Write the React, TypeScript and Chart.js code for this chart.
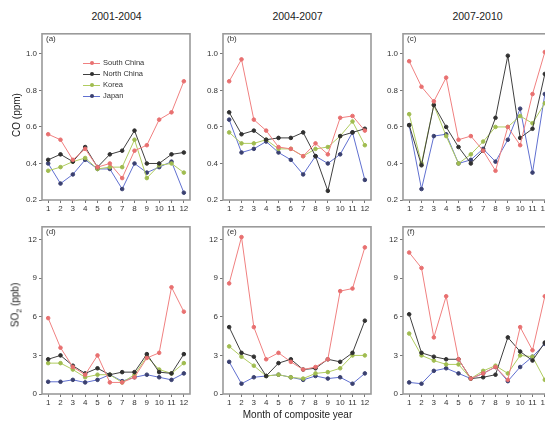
import React, { useEffect, useRef } from "react";
import { Chart, registerables } from "chart.js";

Chart.register(...registerables);

const months = ["1", "2", "3", "4", "5", "6", "7", "8", "9", "10", "11", "12"];
const seriesNames = ["South China", "North China", "Korea", "Japan"];
const periodTitles = ["2001-2004", "2004-2007", "2007-2010"];
const coTicks = [0.2, 0.4, 0.6, 0.8, 1.0];
const so2Ticks = [0, 3, 6, 9, 12];

// CO (ppm)
const coSouthChina0104 = [0.56, 0.53, 0.42, 0.48, 0.38, 0.4, 0.32, 0.47, 0.5, 0.64, 0.68, 0.85];
const coNorthChina0104 = [0.42, 0.45, 0.41, 0.49, 0.38, 0.45, 0.47, 0.58, 0.4, 0.4, 0.45, 0.46];
const coKorea0104 = [0.36, 0.38, 0.41, 0.43, 0.37, 0.38, 0.38, 0.53, 0.32, 0.39, 0.4, 0.35];
const coJapan0104 = [0.4, 0.29, 0.34, 0.42, 0.37, 0.37, 0.26, 0.4, 0.35, 0.38, 0.41, 0.24];

const coSouthChina0407 = [0.85, 0.97, 0.64, 0.58, 0.49, 0.48, 0.44, 0.51, 0.45, 0.65, 0.66, 0.58];
const coNorthChina0407 = [0.68, 0.56, 0.58, 0.53, 0.54, 0.54, 0.57, 0.44, 0.25, 0.55, 0.57, 0.59];
const coKorea0407 = [0.57, 0.51, 0.51, 0.53, 0.48, 0.48, 0.44, 0.48, 0.49, 0.55, 0.63, 0.5];
const coJapan0407 = [0.64, 0.46, 0.48, 0.52, 0.46, 0.42, 0.34, 0.44, 0.4, 0.45, 0.57, 0.31];

const coSouthChina0710 = [0.96, 0.82, 0.74, 0.87, 0.53, 0.55, 0.47, 0.36, 0.6, 0.5, 0.78, 1.01];
const coNorthChina0710 = [0.61, 0.39, 0.72, 0.6, 0.49, 0.4, 0.47, 0.65, 0.99, 0.54, 0.59, 0.89];
const coKorea0710 = [0.67, 0.4, 0.72, 0.55, 0.4, 0.45, 0.52, 0.6, 0.6, 0.66, 0.62, 0.73];
const coJapan0710 = [0.61, 0.26, 0.55, 0.56, 0.4, 0.42, 0.48, 0.41, 0.53, 0.7, 0.35, 0.78];

// SO2 (ppb)
const so2SouthChina0104 = [5.9, 3.6, 2.1, 1.5, 3.0, 0.9, 0.9, 1.3, 2.8, 3.2, 8.3, 6.4];
const so2NorthChina0104 = [2.7, 3.0, 2.2, 1.6, 2.0, 1.5, 1.7, 1.7, 3.1, 1.7, 1.6, 3.1];
const so2Korea0104 = [2.4, 2.4, 1.9, 1.3, 1.5, 1.5, 0.9, 1.5, 2.9, 1.9, 1.6, 2.4];
const so2Japan0104 = [0.95, 0.95, 1.1, 0.9, 1.1, 1.5, 1.0, 1.3, 1.5, 1.3, 1.1, 1.6];

const so2SouthChina0407 = [8.6, 12.2, 5.2, 2.7, 3.2, 2.5, 1.9, 2.1, 2.7, 8.0, 8.2, 11.4];
const so2NorthChina0407 = [5.2, 3.2, 2.9, 1.4, 2.4, 2.7, 1.9, 2.0, 2.7, 2.5, 3.2, 5.7];
const so2Korea0407 = [3.7, 2.9, 2.2, 1.4, 1.5, 1.3, 1.2, 1.6, 1.7, 2.0, 3.0, 3.0];
const so2Japan0407 = [2.5, 0.8, 1.3, 1.4, 1.5, 1.3, 1.1, 1.4, 1.2, 1.3, 0.8, 1.6];

const so2SouthChina0710 = [11.0, 9.8, 4.4, 7.6, 2.7, 1.2, 1.6, 2.1, 1.1, 5.2, 3.4, 7.6];
const so2NorthChina0710 = [6.2, 3.2, 2.9, 2.7, 2.7, 1.2, 1.3, 1.5, 4.4, 3.3, 2.6, 4.0];
const so2Korea0710 = [4.7, 3.0, 2.6, 2.3, 2.3, 1.2, 1.8, 2.2, 1.6, 3.0, 2.9, 1.1];
const so2Japan0710 = [0.9, 0.8, 1.8, 2.0, 1.6, 1.2, 1.6, 2.1, 1.0, 2.1, 2.9, 3.9];

const lineColors = ["#f08080", "#404040", "#b0cc60", "#6070d0"];
const pointColors = ["#e87070", "#303030", "#a0bc50", "#3a4070"];

const YW = 30;
const XH = 18;
const PT = 4;
const PR = 4;

const framePlugin = {
  id: "frame",
  afterDraw(chart: any) {
    const { ctx, chartArea } = chart;
    ctx.save();
    ctx.strokeStyle = "#9a9a9a";
    ctx.lineWidth = 1.6;
    ctx.strokeRect(chartArea.left, chartArea.top, chartArea.right - chartArea.left, chartArea.bottom - chartArea.top);
    ctx.restore();
  },
};

type PanelProps = {
  left: number;
  top: number;
  w: number;
  h: number;
  series: number[][];
  yMin: number;
  yMax: number;
  yTicks: number[];
  decimals: number;
};

function Panel({ left, top, w, h, series, yMin, yMax, yTicks, decimals }: PanelProps) {
  const ref = useRef<HTMLCanvasElement>(null);
  const cw = w + YW + PR;
  const ch = h + PT + XH;
  useEffect(() => {
    if (!ref.current) return;
    const chart = new Chart(ref.current, {
      type: "line",
      data: {
        labels: months,
        datasets: series.map((d, i) => ({
          label: seriesNames[i],
          data: d,
          borderColor: lineColors[i],
          backgroundColor: pointColors[i],
          pointBackgroundColor: pointColors[i],
          pointBorderColor: pointColors[i],
          borderWidth: 1,
          pointRadius: 1.8,
          pointStyle: "circle",
          tension: 0,
          fill: false,
        })),
      },
      options: {
        animation: false,
        responsive: false,
        layout: { padding: { top: PT, right: PR, left: 0, bottom: 0 } },
        plugins: { legend: { display: false }, tooltip: { enabled: false } },
        scales: {
          x: {
            type: "category",
            offset: true,
            afterFit: (s: any) => {
              s.height = XH;
            },
            grid: { display: true, drawOnChartArea: false, tickLength: 3, color: "#777", offset: false },
            border: { display: false },
            ticks: {
              autoSkip: false,
              maxRotation: 0,
              padding: 1,
              color: "#333",
              font: { family: "Liberation Sans, Arial, sans-serif", size: 8 },
            },
          },
          y: {
            type: "linear",
            min: yMin,
            max: yMax,
            afterFit: (s: any) => {
              s.width = YW;
            },
            afterBuildTicks: (s: any) => {
              s.ticks = yTicks.map((v) => ({ value: v }));
            },
            grid: { display: true, drawOnChartArea: false, tickLength: 3, color: "#777" },
            border: { display: false },
            ticks: {
              padding: 2,
              color: "#333",
              font: { family: "Liberation Sans, Arial, sans-serif", size: 8 },
              callback: (v: any) => Number(v).toFixed(decimals),
            },
          },
        },
      },
      plugins: [framePlugin],
    });
    return () => chart.destroy();
  }, []);
  return (
    <canvas
      ref={ref}
      width={cw}
      height={ch}
      style={{ position: "absolute", left: left - YW, top: top - PT, width: cw, height: ch }}
    />
  );
}

const textFont = "Liberation Sans, Arial, sans-serif";

function Legend({ left, top }: { left: number; top: number }) {
  return (
    <div style={{ position: "absolute", left, top, fontFamily: textFont, fontSize: 7.5, color: "#333" }}>
      {seriesNames.map((n, i) => (
        <div key={n} style={{ display: "flex", alignItems: "center", height: 11 }}>
          <div style={{ position: "relative", width: 17, height: 8, marginRight: 3 }}>
            <div style={{ position: "absolute", left: 0, top: 4, width: 17, height: 1, background: lineColors[i] }} />
            <div
              style={{
                position: "absolute",
                left: 6.5,
                top: 2.5,
                width: 4,
                height: 4,
                borderRadius: 2,
                background: pointColors[i],
              }}
            />
          </div>
          <span>{n}</span>
        </div>
      ))}
    </div>
  );
}

export default function App() {
  const cols = [42, 223, 403];
  const w = 149;
  const rows = [
    { top: 31, h: 169 },
    { top: 224, h: 170 },
  ];
  const coData = [
    [coSouthChina0104, coNorthChina0104, coKorea0104, coJapan0104],
    [coSouthChina0407, coNorthChina0407, coKorea0407, coJapan0407],
    [coSouthChina0710, coNorthChina0710, coKorea0710, coJapan0710],
  ];
  const so2Data = [
    [so2SouthChina0104, so2NorthChina0104, so2Korea0104, so2Japan0104],
    [so2SouthChina0407, so2NorthChina0407, so2Korea0407, so2Japan0407],
    [so2SouthChina0710, so2NorthChina0710, so2Korea0710, so2Japan0710],
  ];
  const panelLetters = [
    ["(a)", "(b)", "(c)"],
    ["(d)", "(e)", "(f)"],
  ];
  return (
    <div
      style={{
        position: "absolute",
        left: 0,
        top: 0,
        width: 545,
        height: 423,
        overflow: "hidden",
        background: "#fff",
        fontFamily: textFont,
      }}
    >
      {cols.map((x, i) => (
        <div
          key={"t" + i}
          style={{
            position: "absolute",
            left: x,
            width: w,
            top: 10,
            textAlign: "center",
            fontSize: 10.5,
            color: "#222",
          }}
        >
          {periodTitles[i]}
        </div>
      ))}
      {cols.map((x, i) => (
        <Panel
          key={"co" + i}
          left={x}
          top={rows[0].top}
          w={w}
          h={rows[0].h}
          series={coData[i]}
          yMin={0.2}
          yMax={1.11}
          yTicks={coTicks}
          decimals={1}
        />
      ))}
      {cols.map((x, i) => (
        <Panel
          key={"so2" + i}
          left={x}
          top={rows[1].top}
          w={w}
          h={rows[1].h}
          series={so2Data[i]}
          yMin={0}
          yMax={13}
          yTicks={so2Ticks}
          decimals={0}
        />
      ))}
      {rows.map((r, ri) =>
        cols.map((x, ci) => (
          <div
            key={"l" + ri + ci}
            style={{ position: "absolute", left: x + 4, top: r.top + 3, fontSize: 8, color: "#333" }}
          >
            {panelLetters[ri][ci]}
          </div>
        ))
      )}
      <Legend left={83} top={57} />
      <div
        style={{
          position: "absolute",
          left: 16,
          top: 115,
          transform: "translate(-50%, -50%) rotate(-90deg)",
          fontSize: 10,
          color: "#222",
          whiteSpace: "nowrap",
        }}
      >
        CO (ppm)
      </div>
      <div
        style={{
          position: "absolute",
          left: 16,
          top: 305,
          transform: "translate(-50%, -50%) rotate(-90deg)",
          fontSize: 10,
          color: "#222",
          whiteSpace: "nowrap",
        }}
      >
        SO<sub style={{ fontSize: 7 }}>2</sub> (ppb)
      </div>
      <div
        style={{
          position: "absolute",
          left: 223,
          width: 149,
          top: 409,
          textAlign: "center",
          fontSize: 10,
          color: "#222",
          whiteSpace: "nowrap",
        }}
      >
        Month of composite year
      </div>
    </div>
  );
}
